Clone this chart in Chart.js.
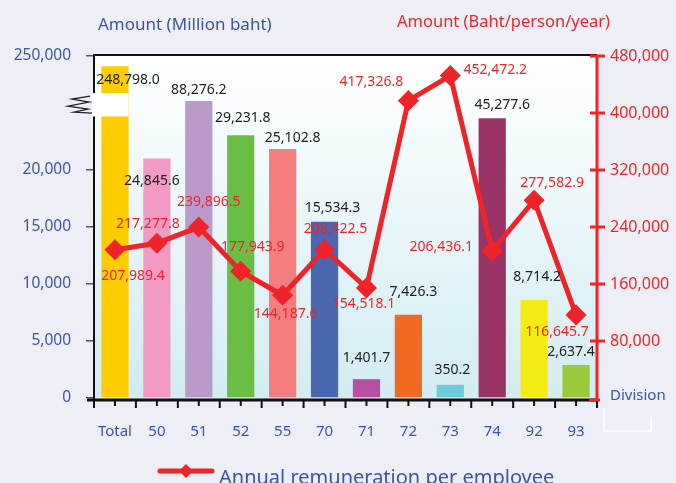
<!DOCTYPE html>
<html>
<head>
<meta charset="utf-8">
<script src="https://cdn.jsdelivr.net/npm/chart.js@4.4.1/dist/chart.umd.min.js"></script>
<style>
html,body{margin:0;padding:0;background:#eeeef6;}
#wrap{width:676px;height:483px;position:relative;}
</style>
</head>
<body>
<div id="wrap"><canvas id="c" width="676" height="483"></canvas></div>
<script>
// ---- data ----
const categories = ['Total','50','51','52','55','70','71','72','73','74','92','93'];
// amounts shown as labels (Million baht)
const amounts = ['248,798.0','24,845.6','88,276.2','29,231.8','25,102.8','15,534.3','1,401.7','7,426.3','350.2','45,277.6','8,714.2','2,637.4'];
// bar heights as drawn on the (broken) left axis
const barHeights = [29100, 21000, 26050, 23050, 21850, 15450, 1650, 7300, 1150, 24550, 8600, 2900];
// annual remuneration per employee (Baht/person/year)
const remuneration = [207989.4, 217277.8, 239896.5, 177943.9, 144187.6, 208422.5, 154518.1, 417326.8, 452472.2, 206436.1, 277582.9, 116645.7];
const leftTicks = [0, 5000, 10000, 15000, 20000, 30000];
const leftTickLabels = ['0','5,000','10,000','15,000','20,000','250,000'];
const rightTickLabels = ['','80,000','160,000','240,000','320,000','400,000','480,000'];

// ---- styles ----
const barColors = ['#FFCC00','#F29AC4','#B99AC8','#6BBE45','#F47E7E','#4A67B0','#B650A0','#F26A22','#6DCCDC','#993366','#F5EB14','#9ACA3C'];
const BLUE = '#3b55a6', RED = '#ee2428', FONT = '"Noto Sans", sans-serif';
const barLabelOffsets = [[13,14],[-5,22],[0,-11],[2,-17],[10,-11],[8,-14],[0,-21],[5,-23],[2,-15],[10,-13],[3,-23],[-5,-13]];
const lineLabelOffsets = [[18,26],[-9,-19],[10,-25],[12,-24],[3,19],[11,-20],[-3,16],[-37,-19],[45,-6],[-51,-4],[18,-17],[-19,17]];

const decor = {
  id: 'decor',
  beforeDatasetsDraw(chart) {
    const {ctx, chartArea: a} = chart;
    const g = ctx.createLinearGradient(0, a.top, 0, a.bottom);
    g.addColorStop(0, '#ffffff');
    g.addColorStop(1, '#d2ecf2');
    ctx.save();
    ctx.fillStyle = g;
    ctx.fillRect(a.left, a.top, a.right - a.left, a.bottom - a.top);
    ctx.restore();
  },
  afterDraw(chart) {
    const {ctx, chartArea: a, scales} = chart;
    const xs = scales.x, ys = scales.y, yr = scales.y1;
    ctx.save();
    // left axis line
    ctx.strokeStyle = '#111'; ctx.lineWidth = 2;
    ctx.beginPath(); ctx.moveTo(a.left, a.top - 1); ctx.lineTo(a.left, a.bottom + 3); ctx.stroke();
    // top border
    ctx.beginPath(); ctx.moveTo(a.left - 1, a.top - 1); ctx.lineTo(a.right, a.top - 1); ctx.stroke();
    // x axis line
    ctx.lineWidth = 3;
    ctx.beginPath(); ctx.moveTo(a.left - 7, a.bottom + 2); ctx.lineTo(a.right, a.bottom + 2); ctx.stroke();
    // x ticks
    ctx.lineWidth = 2;
    const n = categories.length;
    const step = (a.right - a.left) / n;
    for (let i = 0; i <= n; i++) {
      const x = a.left + i * step;
      ctx.beginPath(); ctx.moveTo(x, a.bottom + 2); ctx.lineTo(x, a.bottom + 10); ctx.stroke();
      if (i < n) {
        const xc = xs.getPixelForValue(i);
        ctx.beginPath(); ctx.moveTo(xc, a.bottom + 2); ctx.lineTo(xc, a.bottom + 8); ctx.stroke();
      }
    }
    // right axis
    ctx.strokeStyle = RED; ctx.lineWidth = 3;
    ctx.beginPath(); ctx.moveTo(a.right, a.top - 1); ctx.lineTo(a.right, a.bottom + 3); ctx.stroke();
    ctx.lineWidth = 3;
    for (let v = 80000; v <= 480000; v += 80000) {
      const y = yr.getPixelForValue(v);
      ctx.beginPath(); ctx.moveTo(a.right - 7, y); ctx.lineTo(a.right + 8, y); ctx.stroke();
    }
    ctx.beginPath(); ctx.moveTo(a.right - 8, a.bottom + 2); ctx.lineTo(a.right + 3, a.bottom + 2); ctx.stroke();

    // axis break
    const bar0 = chart.getDatasetMeta(0).data[0];
    const yb1 = ys.getPixelForValue(26750), yb2 = ys.getPixelForValue(24700);
    ctx.fillStyle = '#ffffff';
    ctx.fillRect(a.left - 2, yb1, bar0.x + bar0.width / 2 - a.left + 2, yb2 - yb1);
    ctx.strokeStyle = '#222'; ctx.lineWidth = 1.3;
    ctx.beginPath();
    ctx.moveTo(a.left - 4, yb1 + 3);
    ctx.lineTo(a.left - 22, yb1 + 6);
    ctx.lineTo(a.left - 5, yb1 + 9);
    ctx.lineTo(a.left - 26, yb1 + 13);
    ctx.lineTo(a.left - 6, yb1 + 16);
    ctx.lineTo(a.left - 20, yb1 + 19);
    ctx.lineTo(a.left - 2, yb1 + 20);
    ctx.stroke();

    // bar labels
    ctx.font = '14px ' + FONT;
    ctx.textAlign = 'center'; ctx.textBaseline = 'middle';
    ctx.fillStyle = '#222';
    chart.getDatasetMeta(0).data.forEach((el, i) => {
      ctx.fillText(amounts[i], el.x + barLabelOffsets[i][0], el.y + barLabelOffsets[i][1]);
    });
    // line labels
    ctx.fillStyle = RED;
    chart.getDatasetMeta(1).data.forEach((el, i) => {
      const txt = remuneration[i].toLocaleString('en-US', {minimumFractionDigits: 1, maximumFractionDigits: 1});
      ctx.fillText(txt, el.x + lineLabelOffsets[i][0], el.y + lineLabelOffsets[i][1]);
    });

    // titles
    ctx.textAlign = 'left';
    ctx.font = '17px ' + FONT;
    ctx.fillStyle = BLUE;
    ctx.fillText('Amount (Million baht)', 98, 25);
    ctx.font = '16.5px ' + FONT;
    ctx.fillStyle = RED;
    ctx.fillText('Amount (Baht/person/year)', 397, 22);
    ctx.font = '15px ' + FONT;
    ctx.fillStyle = BLUE;
    ctx.fillText('Division', 610, 396);

    // white bracket under Division
    ctx.strokeStyle = '#ffffff'; ctx.lineWidth = 1.5;
    ctx.beginPath();
    ctx.moveTo(604, 408); ctx.lineTo(604, 431); ctx.lineTo(651, 431); ctx.lineTo(651, 417);
    ctx.stroke();

    // legend
    ctx.strokeStyle = RED; ctx.lineWidth = 5; ctx.lineCap = 'round';
    ctx.beginPath(); ctx.moveTo(160, 471); ctx.lineTo(212, 471); ctx.stroke();
    ctx.fillStyle = RED;
    ctx.beginPath();
    ctx.moveTo(186, 464); ctx.lineTo(193, 471); ctx.lineTo(186, 478); ctx.lineTo(179, 471); ctx.closePath();
    ctx.fill();
    ctx.font = '20px ' + FONT;
    ctx.fillStyle = BLUE;
    ctx.textBaseline = 'alphabetic';
    ctx.fillText('Annual remuneration per employee', 219, 484);
    ctx.restore();
  }
};

new Chart(document.getElementById('c'), {
  type: 'bar',
  data: {
    labels: categories,
    datasets: [
      {
        type: 'bar', data: barHeights, yAxisID: 'y', order: 1,
        backgroundColor: barColors, borderWidth: 0,
        barPercentage: 0.65, categoryPercentage: 1.0
      },
      {
        type: 'line', data: remuneration, yAxisID: 'y1', order: 0,
        label: 'Annual remuneration per employee',
        borderColor: RED, backgroundColor: RED, borderWidth: 5,
        pointStyle: 'rectRot', pointRadius: 7, pointHoverRadius: 7,
        tension: 0, borderJoinStyle: 'round'
      }
    ]
  },
  options: {
    responsive: false,
    animation: false,
    layout: {padding: {top: 56, left: 0, right: 0, bottom: 0}},
    plugins: {legend: {display: false}, tooltip: {enabled: false}},
    scales: {
      x: {
        afterFit: s => { s.height = 85; },
        grid: {display: true, drawOnChartArea: false, color: 'rgba(0,0,0,0)', tickLength: 8},
        border: {display: false},
        ticks: {color: BLUE, font: {family: FONT, size: 15}, padding: 17}
      },
      y: {
        position: 'left', min: 0, max: 30000,
        afterFit: s => { s.width = 94; },
        afterBuildTicks: s => { s.ticks = leftTicks.map(v => ({value: v})); },
        grid: {
          display: true, drawOnChartArea: false, tickLength: 8, lineWidth: 1.5,
          color: '#555'
        },
        border: {display: false},
        ticks: {
          color: BLUE, font: {family: FONT, size: 15.5}, padding: 15,
          callback: (v) => { const k = leftTicks.indexOf(v); return k >= 0 ? leftTickLabels[k] : ''; }
        }
      },
      y1: {
        position: 'right', min: 0, max: 480000,
        afterFit: s => { s.width = 79; },
        grid: {display: true, drawOnChartArea: false, color: 'rgba(0,0,0,0)', tickLength: 8},
        border: {display: false},
        ticks: {
          stepSize: 80000, color: RED, font: {family: FONT, size: 16}, padding: 5,
          callback: (v) => rightTickLabels[Math.round(v / 80000)]
        }
      }
    }
  },
  plugins: [decor]
});
</script>
</body>
</html>
